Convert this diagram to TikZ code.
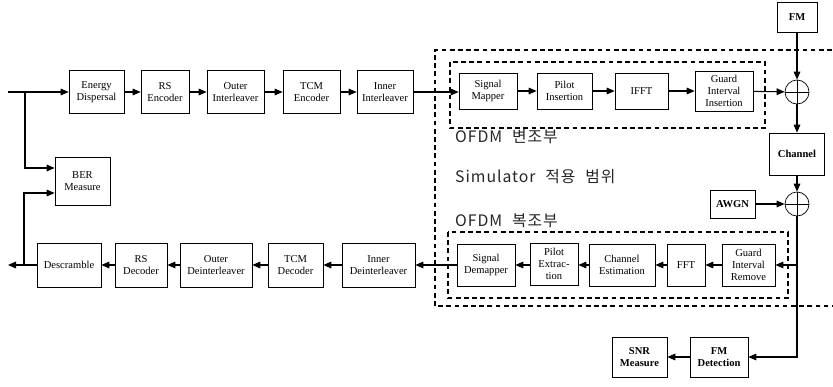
\documentclass[tikz,border=0pt]{standalone}
\usepackage{fontspec}
\setmainfont{Liberation Serif}
\newfontfamily\krfont[LetterSpace=6,WordSpace=2.2]{Noto Sans CJK KR}
\usetikzlibrary{arrows.meta,calc}

\begin{document}
\begin{tikzpicture}[
    x=0.3mm, y=-0.3mm,
    blk/.style 2 args={draw, line width=0.6pt, minimum width=#1*0.3mm, minimum height=#2*0.3mm, inner sep=1pt, align=center, font=\fontsize{9}{10.5}\selectfont},
    blkb/.style 2 args={blk={#1}{#2}, font=\fontsize{9}{10.5}\selectfont\bfseries},
    sum/.style={circle, draw, line width=0.6pt, minimum size=24*0.3mm, inner sep=0pt,
        path picture={\draw (path picture bounding box.north) -- (path picture bounding box.south)
                            (path picture bounding box.west) -- (path picture bounding box.east);}},
    sig/.style={line width=0.9pt, -{Triangle[length=2.4mm,width=2mm]}},
    zone/.style={line width=1pt, dash pattern=on 4pt off 3pt},
    lbl/.style={font=\krfont\fontsize{13.5}{15}\selectfont, anchor=west, inner sep=0pt, text=black!85}
]
    \useasboundingbox (0,0) rectangle (833,386);

    % simulator range and OFDM parts
    \draw[zone] (840,50) -- (435,50) -- (435,306) -- (840,306);
    \draw[zone] (450,62) rectangle (765,128);
    \draw[zone] (448,232) rectangle (788,298);
    \node[lbl] (modtxt) at (455,137) {OFDM 변조부};
    \node[lbl] (simtxt) at (455,177) {Simulator 적용 범위};
    \node[lbl] (demtxt) at (455,221) {OFDM 복조부};

    % transmitter
    \node[blk={55}{43}] (ed) at (96.5,92) {Energy\\Dispersal};
    \node[blk={48}{43}] (rse) at (165,92) {RS\\Encoder};
    \node[blk={57}{43}] (oi) at (235.5,92) {Outer\\Interleaver};
    \node[blk={57}{43}] (tcme) at (311.5,92) {TCM\\Encoder};
    \node[blk={56}{43}] (ii) at (385,92) {Inner\\Interleaver};
    \node[blk={55}{48}] (ber) at (82.5,181) {BER\\Measure};

    \node[blk={58}{36}] (sm) at (488,91) {Signal\\Mapper};
    \node[blk={55}{36}] (pi) at (564.5,91) {Pilot\\Insertion};
    \node[blk={53}{36}] (ifft) at (641.5,91) {IFFT};
    \node[blk={58}{40}] (gii) at (724,91) {Guard\\Interval\\Insertion};
    \node[sum] (sum1) at (797,92) {};
    \node[blkb={40}{30}] (fm) at (797,17) {FM};
    \node[blkb={55}{42}] (ch) at (797,154) {Channel};
    \node[sum] (sum2) at (797,204) {};
    \node[blkb={45}{28}] (awgn) at (732.5,204) {AWGN};

    % receiver
    \node[blk={53}{42}] (gir) at (748.5,265) {Guard\\Interval\\Remove};
    \node[blk={38}{42}] (fft) at (686,265) {FFT};
    \node[blk={66}{42}] (ce) at (622,265) {Channel\\Estimation};
    \node[blk={48}{42}] (pe) at (554,264) {Pilot\\Extrac-\\tion};
    \node[blk={58}{42}] (sdm) at (486,265) {Signal\\Demapper};
    \node[blk={73}{44}] (ideint) at (378.5,265) {Inner\\Deinterleaver};
    \node[blk={55}{44}] (tcmd) at (295.5,265) {TCM\\Decoder};
    \node[blk={72}{44}] (odeint) at (216,265) {Outer\\Deinterleaver};
    \node[blk={52}{44}] (rsd) at (141,265) {RS\\Decoder};
    \node[blk={64}{44}] (desc) at (69,265) {Descramble};
    \node[blkb={58}{40}] (fmd) at (719,357) {FM\\Detection};
    \node[blkb={55}{40}] (snr) at (639.5,357) {SNR\\Measure};

    \coordinate (in) at (8,92);
    \coordinate (out) at (8,265);
    \coordinate (j1) at (25,92);
    \coordinate (j2) at (24,265);

    \draw[sig] (in) -- (ed);
    \draw[sig] (ed) -- (rse);
    \draw[sig] (rse) -- (oi);
    \draw[sig] (oi) -- (tcme);
    \draw[sig] (tcme) -- (ii);
    \draw[sig] (ii) -- (ii -| sm.west);
    \draw[sig] (sm) -- (pi);
    \draw[sig] (pi) -- (ifft);
    \draw[sig] (ifft) -- (gii);
    \draw[sig] (gii) -- (sum1);
    \draw[sig] (fm) -- (sum1);
    \draw[sig] (sum1) -- (ch);
    \draw[sig] (ch) -- (sum2);
    \draw[sig] (awgn) -- (sum2);
    \draw[sig] (j1) |- ($(ber.west)+(0,-13)$);
    \draw[sig] (j2) |- ($(ber.west)+(0,12)$);

    \draw[sig] (sum2.south |- gir) -- (gir);
    \draw[sig] (sum2) |- (fmd);
    \draw[sig] (fmd) -- (snr);
    \draw[sig] (gir) -- (fft);
    \draw[sig] (fft) -- (ce);
    \draw[sig] (ce) -- (ce -| pe.east);
    \draw[sig] (pe.west |- sdm) -- (sdm);
    \draw[sig] (sdm) -- (ideint);
    \draw[sig] (ideint) -- (tcmd);
    \draw[sig] (tcmd) -- (odeint);
    \draw[sig] (odeint) -- (rsd);
    \draw[sig] (rsd) -- (desc);
    \draw[sig] (desc) -- (out);
\end{tikzpicture}
\end{document}
